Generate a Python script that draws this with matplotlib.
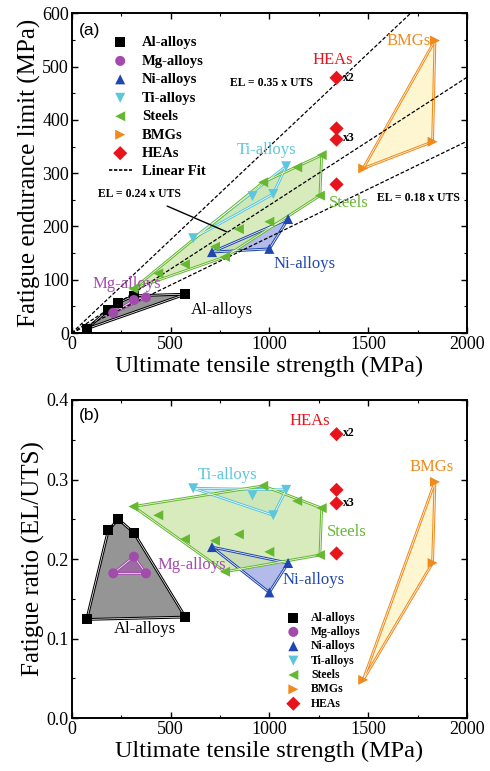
import matplotlib
matplotlib.use('Agg')
import matplotlib.pyplot as plt
import numpy as np
from matplotlib.lines import Line2D
from matplotlib.ticker import MultipleLocator

plt.rcParams['font.family'] = ['Liberation Serif', 'DejaVu Serif']

# data (UTS in MPa, EL in MPa, ratio = EL/UTS)
al_uts = [76, 185, 236, 315, 575]
al_el = [8, 43, 57, 70, 73]
al_ratio = [0.124, 0.236, 0.250, 0.233, 0.127]

mg_uts = [210, 315, 376]
mg_el = [38, 62, 67]
mg_ratio = [0.182, 0.203, 0.182]

ni_uts = [710, 1000, 1095]
ni_el = [152, 158, 214]
ni_ratio = [0.215, 0.158, 0.195]

ti_uts = [615, 915, 1020, 1085]
ti_el = [178, 257, 261, 313]
ti_ratio = [0.289, 0.280, 0.255, 0.287]

steel_uts = [312, 438, 573, 725, 846, 776, 1000, 969, 1141, 1265, 1256]
steel_el = [83, 112, 129, 162, 195, 143, 209, 283, 311, 334, 258]
steel_ratio = [0.266, 0.255, 0.225, 0.223, 0.231, 0.184, 0.209, 0.292, 0.273, 0.264, 0.205]

bmg_uts = [1838, 1826, 1475]
bmg_el = [549, 359, 309]
bmg_ratio = [0.297, 0.195, 0.048]

hea_uts = [1340, 1340, 1340, 1340]
hea_el = [479, 384, 363, 279]
hea_ratio = [0.357, 0.287, 0.270, 0.207]

fit_slopes = [0.35, 0.24, 0.18]
fit_x = [0, 2000]


def hull(xs, ys):
    # monotone chain convex hull
    pts = sorted(set(zip(xs, ys)))
    def cross(o, a, b):
        return (a[0] - o[0]) * (b[1] - o[1]) - (a[1] - o[1]) * (b[0] - o[0])
    lower = []
    for p in pts:
        while len(lower) >= 2 and cross(lower[-2], lower[-1], p) <= 0:
            lower.pop()
        lower.append(p)
    upper = []
    for p in reversed(pts):
        while len(upper) >= 2 and cross(upper[-2], upper[-1], p) <= 0:
            upper.pop()
        upper.append(p)
    h = lower[:-1] + upper[:-1]
    return [p[0] for p in h], [p[1] for p in h]


groups = [
    ("Al-alloys", 's', 'black', '#8a8a8a', 0.9),
    ("Mg-alloys", 'o', '#a34aad', '#a34aad', 0.55),
    ("Ni-alloys", '^', '#2047b0', '#7f8fdc', 0.6),
    ("Ti-alloys", 'v', '#5cc6dc', '#9fdce6', 0.55),
    ("Steels", '<', '#66b832', '#cfe7ab', 0.8),
    ("BMGs", '>', '#f08a1c', '#fdf5cc', 0.9),
    ("HEAs", 'D', '#e8141c', None, 0),
]


def draw_panel(ax, data):
    handles = []
    for (name, mk, col, fc, al), (xs, ys) in zip(groups, data):
        if fc is not None:
            hx, hy = hull(xs, ys)
            ax.fill(hx, hy, facecolor=fc, alpha=al, edgecolor='none', zorder=2)
            ax.plot(hx + [hx[0]], hy + [hy[0]], color=col, lw=2.0, zorder=2.2)
            ax.plot(hx + [hx[0]], hy + [hy[0]], color='white', lw=0.5, zorder=2.3)
        h = ax.scatter(xs, ys, marker=mk, s=52, color=col, label=name,
                       zorder=4, edgecolors='none')
        handles.append(h)
    return handles


def style_axes(ax):
    ax.tick_params(which='both', direction='in', top=True, right=True,
                   labelsize=13, pad=2)
    ax.tick_params(which='major', length=4, width=1)
    ax.tick_params(which='minor', length=2.5, width=0.8)
    for s in ax.spines.values():
        s.set_linewidth(1.4)
    ax.set_xlim(0, 2000)
    ax.xaxis.set_major_locator(MultipleLocator(500))
    ax.xaxis.set_minor_locator(MultipleLocator(250))
    ax.set_xlabel("Ultimate tensile strength (MPa)", fontsize=17.5, labelpad=2)


fig = plt.figure(figsize=(4.9, 7.71), dpi=100)
ax1 = fig.add_axes([0.1463, 0.568, 0.8067, 0.4147])
ax2 = fig.add_axes([0.1463, 0.0687, 0.8067, 0.4125])

# ---------------- panel (a)
h1 = draw_panel(ax1, [(al_uts, al_el), (mg_uts, mg_el), (ni_uts, ni_el),
                      (ti_uts, ti_el), (steel_uts, steel_el),
                      (bmg_uts, bmg_el), (hea_uts, hea_el)])
for k in fit_slopes:
    ax1.plot(fit_x, [k * v for v in fit_x], color='black', ls=(0, (3, 1.5)),
             lw=0.9, zorder=3)
fit_handle = Line2D([], [], color='black', ls=(0, (2, 1)), lw=1.2)

style_axes(ax1)
ax1.set_ylim(0, 600)
ax1.yaxis.set_major_locator(MultipleLocator(100))
ax1.yaxis.set_minor_locator(MultipleLocator(50))
ax1.set_ylabel("Fatigue endurance limit (MPa)", fontsize=18, labelpad=1)

ax1.legend(h1 + [fit_handle], [g[0] for g in groups] + ["Linear Fit"],
           loc='upper left', bbox_to_anchor=(0.06, 0.97), frameon=False,
           prop={'weight': 'bold', 'size': 10.5},
           handlelength=1.6, handletextpad=0.7, labelspacing=0.36,
           borderpad=0.4, scatterpoints=1)

ax1.text(35, 568, "(a)", fontsize=12.5, family='Liberation Sans', va='center')
ax1.text(1320, 513, "HEAs", color='#e8141c', fontsize=12, ha='center', va='center')
ax1.text(1815, 549, "BMGs", color='#f08a1c', fontsize=12, ha='right', va='center')
ax1.text(1012, 469, "EL = 0.35 x UTS", fontsize=8.5, weight='bold', ha='center', va='center')
ax1.text(987, 343, "Ti-alloys", color='#5cc6dc', fontsize=12, ha='center', va='center')
ax1.text(1404, 244, "Steels", color='#66b832', fontsize=12, ha='center', va='center')
ax1.text(1754, 254, "EL = 0.18 x UTS", fontsize=8.5, weight='bold', ha='center', va='center')
ax1.text(1180, 130, "Ni-alloys", color='#2047b0', fontsize=12, ha='center', va='center')
ax1.text(278, 93, "Mg-alloys", color='#a34aad', fontsize=12, ha='center', va='center')
ax1.text(759, 44, "Al-alloys", color='black', fontsize=12, ha='center', va='center')
ax1.text(1370, 478, "x2", fontsize=8.5, weight='bold', va='center')
ax1.text(1370, 366, "x3", fontsize=8.5, weight='bold', va='center')
ax1.annotate("EL = 0.24 x UTS", xy=(784, 190), xytext=(342, 261),
             fontsize=8.5, weight='bold', ha='center', va='center',
             arrowprops=dict(arrowstyle='-', color='black', lw=1,
                             shrinkA=6, shrinkB=0))

# ---------------- panel (b)
h2 = draw_panel(ax2, [(al_uts, al_ratio), (mg_uts, mg_ratio), (ni_uts, ni_ratio),
                      (ti_uts, ti_ratio), (steel_uts, steel_ratio),
                      (bmg_uts, bmg_ratio), (hea_uts, hea_ratio)])
style_axes(ax2)
ax2.set_ylim(0, 0.4)
ax2.yaxis.set_major_locator(MultipleLocator(0.1))
ax2.yaxis.set_minor_locator(MultipleLocator(0.05))
ax2.set_ylabel("Fatigue ratio (EL/UTS)", fontsize=18, labelpad=1)

ax2.legend(h2, [g[0] for g in groups], loc='upper left',
           bbox_to_anchor=(0.51, 0.368), frameon=False,
           prop={'weight': 'bold', 'size': 8.5}, handlelength=1.6,
           handletextpad=0.7, labelspacing=0.2, borderpad=0.4,
           scatterpoints=1)

ax2.text(35, 0.381, "(b)", fontsize=12.5, family='Liberation Sans', va='center')
ax2.text(1205, 0.374, "HEAs", color='#e8141c', fontsize=12, ha='center', va='center')
ax2.text(1821, 0.316, "BMGs", color='#f08a1c', fontsize=12, ha='center', va='center')
ax2.text(787, 0.306, "Ti-alloys", color='#5cc6dc', fontsize=12, ha='center', va='center')
ax2.text(1394, 0.234, "Steels", color='#66b832', fontsize=12, ha='center', va='center')
ax2.text(607, 0.192, "Mg-alloys", color='#a34aad', fontsize=12, ha='center', va='center')
ax2.text(1222, 0.174, "Ni-alloys", color='#2047b0', fontsize=12, ha='center', va='center')
ax2.text(371, 0.112, "Al-alloys", color='black', fontsize=12, ha='center', va='center')
ax2.text(1370, 0.358, "x2", fontsize=8.5, weight='bold', va='center')
ax2.text(1370, 0.271, "x3", fontsize=8.5, weight='bold', va='center')

fig.savefig("out.png", dpi=100)
